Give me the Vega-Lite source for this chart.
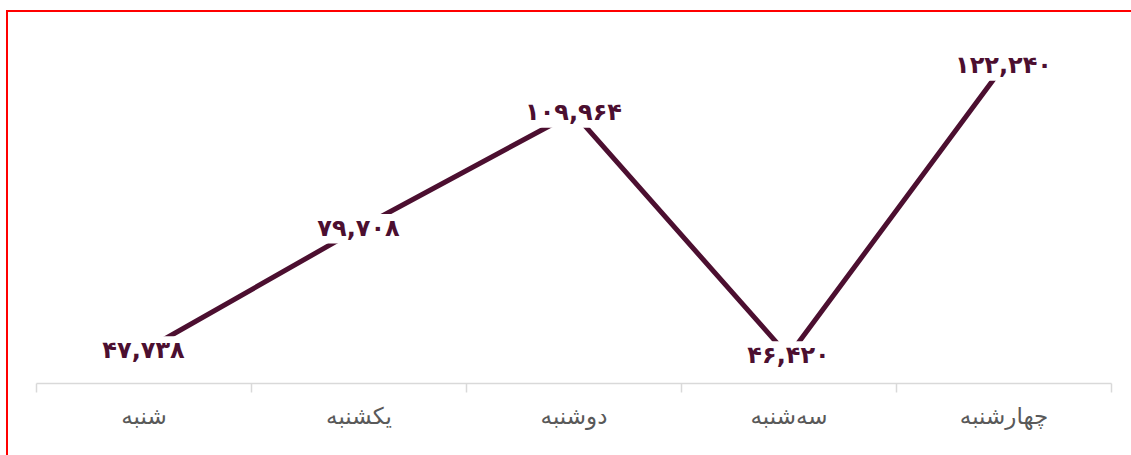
{
  "$schema": "https://vega.github.io/schema/vega-lite/v6.json",
  "width": 1130,
  "height": 450,
  "autosize": {"type": "none"},
  "padding": {"left": 7, "top": 11, "right": 0, "bottom": 0},
  "background": "white",
  "config": {
    "view": {"stroke": "#ff0000", "strokeWidth": 2},
    "font": "DejaVu Sans"
  },
  "data": {
    "values": [
      {"day": "شنبه", "value": 47738, "label": "۴۷,۷۳۸"},
      {"day": "یکشنبه", "value": 79708, "label": "۷۹,۷۰۸"},
      {"day": "دوشنبه", "value": 109964, "label": "۱۰۹,۹۶۴"},
      {"day": "سه‌شنبه", "value": 46420, "label": "۴۶,۴۲۰"},
      {"day": "چهارشنبه", "value": 122240, "label": "۱۲۲,۲۴۰"}
    ]
  },
  "encoding": {
    "x": {
      "field": "day",
      "type": "nominal",
      "sort": null,
      "scale": {"range": [29, 1104], "paddingInner": 0, "paddingOuter": 0},
      "axis": {
        "title": null,
        "offset": -78,
        "labelAngle": 0,
        "tickBand": "extent",
        "domainColor": "#d9d9d9",
        "domainWidth": 1.5,
        "tickColor": "#d9d9d9",
        "tickWidth": 1.5,
        "tickSize": 9,
        "labelFontSize": 23,
        "labelColor": "#595959",
        "labelPadding": 13,
        "labelFont": "DejaVu Sans"
      }
    },
    "y": {
      "field": "value",
      "type": "quantitative",
      "scale": {"domain": [40000, 130000], "range": [369.6, 25.3], "zero": false},
      "axis": null
    }
  },
  "layer": [
    {
      "mark": {"type": "line", "color": "#4c0f30", "strokeWidth": 5}
    },
    {
      "mark": {"type": "point", "shape": "M-1,-0.32H1V0.32H-1Z", "size": 8464, "filled": true, "color": "white", "opacity": 1}
    },
    {
      "mark": {"type": "text", "fontSize": 24, "fontWeight": "bold", "color": "#4c0f30", "baseline": "middle", "align": "center", "font": "DejaVu Sans"},
      "encoding": {"text": {"field": "label"}}
    }
  ]
}
